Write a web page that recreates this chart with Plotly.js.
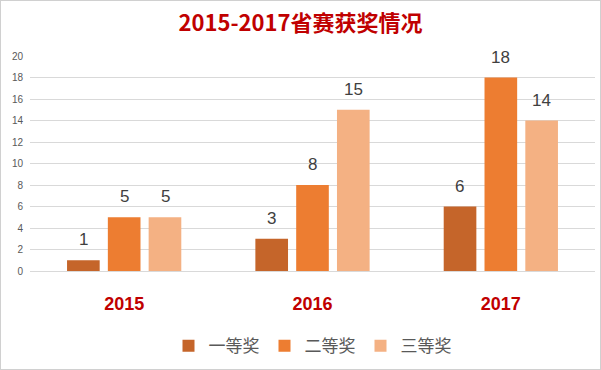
<!DOCTYPE html>
<html><head><meta charset="utf-8">
<script src="https://cdn.plot.ly/plotly-3.0.1.min.js"></script>
<style>html,body{margin:0;padding:0;background:#fff;}#chart{width:599px;height:368px;border:1px solid #d0d0d0;}</style>
</head><body><div id="chart"></div>
<script>
const years = ['2015', '2016', '2017'];
const seriesNames = ['一等奖', '二等奖', '三等奖'];
const first = [1, 3, 6];
const second = [5, 8, 18];
const third = [5, 15, 14];
const yTicks = [0, 2, 4, 6, 8, 10, 12, 14, 16, 18, 20];
const colors = ['#C5652A', '#ED7D31', '#F4B183'];
const allSeries = [first, second, third];
const data = allSeries.map((vals, i) => ({
  type: 'bar', name: seriesNames[i], x: years, y: vals,
  marker: {color: colors[i]}
}));
const annotations = [];
allSeries.forEach((vals, i) => vals.forEach((v, j) => annotations.push({
  x: j, y: v, xref: 'x', yref: 'y', text: String(v), showarrow: false,
  yanchor: 'bottom', xshift: (i - 1) * 41, yshift: 9,
  font: {family: 'Liberation Sans, sans-serif', size: 17, color: '#404040'}
})));
const layout = {
  width: 599, height: 368,
  margin: {l: 29, r: 5, t: 55, b: 98},
  paper_bgcolor: '#fff', plot_bgcolor: '#fff',
  barmode: 'group', bargap: 0.35, bargroupgap: 0.2,
  annotations: annotations,
  title: {text: '2015-2017省赛获奖情况', x: 0.5, xanchor: 'center', y: 0.94, yanchor: 'middle', yref: 'container',
    font: {family: 'Noto Sans CJK SC, sans-serif', size: 22, color: '#C00000', weight: 'bold'}},
  xaxis: {type: 'category', categoryorder: 'array', categoryarray: years, range: [-0.5, 2.5], autorange: false,
    automargin: false, showgrid: false, showline: true, linecolor: '#d9d9d9', ticks: '',
    ticklabelstandoff: 16,
    tickfont: {family: 'Liberation Sans, sans-serif', size: 18, color: '#C00000', weight: 'bold'}},
  yaxis: {range: [0, 20], autorange: false, automargin: false, tickvals: yTicks, ticktext: yTicks.map(String), gridcolor: '#d9d9d9', zeroline: false,
    ticks: '', ticklabelstandoff: 6,
    tickfont: {family: 'Liberation Sans, sans-serif', size: 10, color: '#595959'}},
  showlegend: true,
  legend: {orientation: 'h', x: 0.5, xanchor: 'center', yref: 'container', y: 0.062, yanchor: 'middle',
    font: {family: 'Noto Sans CJK SC, sans-serif', size: 17, color: '#595959'}, itemwidth: 30, traceorder: 'normal'}
};
Plotly.newPlot('chart', data, layout, {displayModeBar: false});
</script></body></html>
